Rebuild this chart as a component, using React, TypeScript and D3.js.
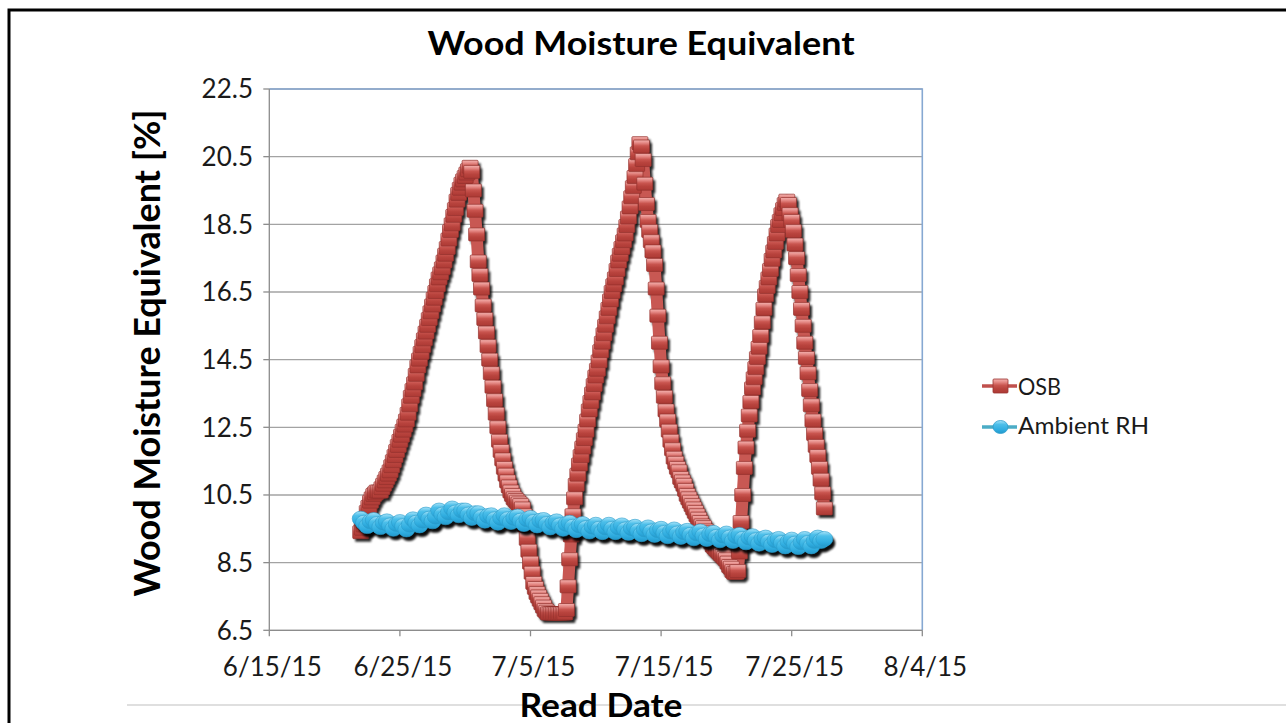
import React from 'react';
import * as d3 from 'd3';

// ---------- data ----------
const xTickLabels = ['6/15/15', '6/25/15', '7/5/15', '7/15/15', '7/25/15', '8/4/15'];
const yTickValues = [6.5, 8.5, 10.5, 12.5, 14.5, 16.5, 18.5, 20.5, 22.5];
const seriesNames = ['OSB', 'Ambient RH'];

// OSB readings, every 3 hours from 6/22/15 00:00
const osbStart = new Date(2015, 5, 22, 0);
const osbStepHours = 3;
const osbValues = [
  9.4, 9.5, 9.6, 9.8, 10.0, 10.15, 10.3, 10.4,
  10.5, 10.55, 10.6, 10.6, 10.6, 10.7, 10.8, 10.9,
  11.0, 11.1, 11.2, 11.35, 11.5, 11.65, 11.8, 11.95,
  12.1, 12.25, 12.4, 12.55, 12.7, 12.9, 13.15, 13.4,
  13.6, 13.8, 14.05, 14.3, 14.5, 14.7, 14.9, 15.1,
  15.3, 15.5, 15.7, 15.9, 16.1, 16.3, 16.5, 16.7,
  16.9, 17.05, 17.2, 17.4, 17.6, 17.8, 18.05, 18.3,
  18.5, 18.75, 18.95, 19.2, 19.4, 19.55, 19.7, 19.8,
  19.9, 20.0, 20.1, 20.2, 20.05, 19.5, 18.9, 18.2,
  17.4, 17.0, 16.6, 16.1, 15.7, 15.3, 14.9, 14.5,
  14.1, 13.7, 13.3, 12.9, 12.5, 12.1, 11.8, 11.55,
  11.3, 11.1, 10.9, 10.75, 10.6, 10.5, 10.4, 10.35,
  10.3, 10.25, 10.2, 10.1, 9.9, 9.6, 9.2, 8.85,
  8.5, 8.2, 7.9, 7.75, 7.6, 7.5, 7.4, 7.3,
  7.2, 7.1, 7.05, 7.0, 7.0, 7.0, 7.0, 7.0,
  7.0, 7.0, 7.0, 7.0, 7.0, 7.0, 7.1, 7.8,
  8.6, 9.3, 9.9, 10.4, 10.8, 11.1, 11.4, 11.65,
  11.9, 12.15, 12.4, 12.7, 13.0, 13.25, 13.5, 13.75,
  14.0, 14.2, 14.45, 14.75, 15.0, 15.25, 15.5, 15.75,
  16.0, 16.25, 16.5, 16.7, 16.9, 17.15, 17.4, 17.6,
  17.8, 18.0, 18.2, 18.45, 18.7, 19.0, 19.3, 19.6,
  19.9, 20.25, 20.6, 20.9, 20.8, 20.4, 19.7, 19.1,
  18.6, 18.3, 18.0, 17.7, 17.3, 16.6, 15.8, 15.0,
  14.3, 13.8, 13.4, 13.0, 12.7, 12.4, 12.1, 11.85,
  11.6, 11.45, 11.3, 11.2, 11.0, 10.9, 10.8, 10.65,
  10.5, 10.4, 10.3, 10.2, 10.1, 10.0, 9.9, 9.8,
  9.7, 9.6, 9.55, 9.45, 9.4, 9.3, 9.2, 9.1,
  9.0, 8.95, 8.9, 8.85, 8.8, 8.75, 8.7, 8.65,
  8.6, 8.5, 8.4, 8.35, 8.25, 8.2, 8.2, 8.25,
  8.8, 9.7, 10.5, 11.3, 11.9, 12.4, 12.85, 13.25,
  13.65, 13.95, 14.25, 14.55, 14.85, 15.2, 15.6, 16.0,
  16.4, 16.65, 16.9, 17.15, 17.45, 17.7, 17.95, 18.2,
  18.45, 18.6, 18.8, 18.95, 19.1, 19.2, 19.1, 18.8,
  18.6, 18.3, 17.9, 17.5, 17.0, 16.5, 16.0, 15.5,
  15.0, 14.55, 14.1, 13.6, 13.15, 12.7, 12.3, 11.95,
  11.65, 11.3, 10.95, 10.55, 10.1,
];

// Ambient RH readings, every 6 hours from 6/22/15 00:00
const rhStart = new Date(2015, 5, 22, 0);
const rhStepHours = 6;
const rhValues = [
  9.80, 9.68, 9.58, 9.72,
  9.76, 9.64, 9.55, 9.68,
  9.72, 9.60, 9.50, 9.64,
  9.70, 9.58, 9.48, 9.62,
  9.78, 9.68, 9.60, 9.74,
  9.92, 9.80, 9.72, 9.86,
  10.04, 9.92, 9.84, 9.98,
  10.10, 9.98, 9.90, 10.04,
  10.04, 9.92, 9.82, 9.96,
  9.96, 9.84, 9.74, 9.88,
  9.90, 9.78, 9.68, 9.82,
  9.90, 9.78, 9.70, 9.82,
  9.86, 9.74, 9.64, 9.78,
  9.82, 9.70, 9.60, 9.74,
  9.76, 9.64, 9.54, 9.68,
  9.72, 9.60, 9.50, 9.64,
  9.68, 9.56, 9.46, 9.60,
  9.64, 9.52, 9.42, 9.56,
  9.62, 9.50, 9.40, 9.54,
  9.62, 9.50, 9.40, 9.54,
  9.60, 9.48, 9.38, 9.52,
  9.56, 9.44, 9.34, 9.48,
  9.54, 9.42, 9.32, 9.46,
  9.50, 9.38, 9.28, 9.42,
  9.48, 9.36, 9.26, 9.40,
  9.44, 9.32, 9.22, 9.36,
  9.42, 9.30, 9.20, 9.34,
  9.38, 9.26, 9.16, 9.30,
  9.36, 9.24, 9.14, 9.28,
  9.32, 9.20, 9.10, 9.24,
  9.28, 9.16, 9.06, 9.20,
  9.24, 9.12, 9.02, 9.16,
  9.20, 9.08, 8.98, 9.12,
  9.18, 9.06, 8.96, 9.10,
  9.20, 9.08, 8.98, 9.14,
  9.24, 9.14, 9.20,
];

type Pt = { t: Date; v: number };

const FONT = "Lato, 'Open Sans', Arial, sans-serif";

export default function App() {
  const W = 1286;
  const H = 723;
  const parse = d3.timeParse('%m/%d/%y');
  const xTicks = xTickLabels.map((s) => parse(s) as Date);
  const x = d3
    .scaleTime()
    .domain([xTicks[0], xTicks[xTicks.length - 1]])
    .range([269.3, 922.3]);
  const y = d3
    .scaleLinear()
    .domain([yTickValues[0], yTickValues[yTickValues.length - 1]])
    .range([630.3, 89]);

  const osb: Pt[] = osbValues.map((v, i) => ({ t: d3.timeHour.offset(osbStart, i * osbStepHours), v }));
  const rh: Pt[] = rhValues.map((v, i) => ({ t: d3.timeHour.offset(rhStart, i * rhStepHours), v }));

  const line = d3
    .line<Pt>()
    .x((d) => x(d.t))
    .y((d) => y(d.v));

  const [x0, x1] = x.range();
  const [yb, yt] = y.range();

  const mw = 16;
  const mh = 13;
  const rx = 8.5;
  const ry = 7.5;

  return (
    <svg
      width={W}
      height={H}
      style={{ position: 'absolute', left: 0, top: 0, background: '#fff' }}
      fontFamily={FONT}
    >
      <defs>
        <linearGradient id="osbGrad" x1="0" y1="0" x2="0" y2="1">
          <stop offset="0" stopColor="#f4b3b0" />
          <stop offset="0.22" stopColor="#e58985" />
          <stop offset="0.45" stopColor="#c9554f" />
          <stop offset="0.7" stopColor="#b8433d" />
          <stop offset="1" stopColor="#ad3a35" />
        </linearGradient>
        <linearGradient id="rhGrad" x1="0" y1="0" x2="0" y2="1">
          <stop offset="0" stopColor="#a9e3f8" />
          <stop offset="0.3" stopColor="#4cbfea" />
          <stop offset="0.7" stopColor="#30ade0" />
          <stop offset="1" stopColor="#2399cc" />
        </linearGradient>
        <filter id="blur" x="-5%" y="-5%" width="110%" height="110%">
          <feGaussianBlur stdDeviation="1.2" />
        </filter>
      </defs>

      {/* page frame */}
      <path d={`M9,${H} V10 H${W}`} fill="none" stroke="#000" strokeWidth={3} />
      <line x1={127} x2={W} y1={705} y2={705} stroke="#d4d4d4" strokeWidth={1.5} />

      {/* title */}
      <text x={641} y={55} textAnchor="middle" fontSize={32} fontWeight={700} fill="#000" textLength={427} lengthAdjust="spacingAndGlyphs">
        Wood Moisture Equivalent
      </text>

      {/* gridlines */}
      {yTickValues.map((v) => (
        <line key={'g' + v} x1={x0} x2={x1} y1={y(v)} y2={y(v)} stroke="#a3a3a3" strokeWidth={1.3} />
      ))}
      {/* plot border top/right */}
      <path d={`M${x0},${yt} H${x1} V${yb}`} fill="none" stroke="#86a8d2" strokeWidth={1.6} />

      {/* axes */}
      <line x1={x0} x2={x0} y1={yt} y2={yb} stroke="#8c8c8c" strokeWidth={1.3} />
      <line x1={x0} x2={x1} y1={yb} y2={yb} stroke="#8c8c8c" strokeWidth={1.3} />
      {yTickValues.map((v) => (
        <g key={'yt' + v}>
          <line x1={x0 - 6} x2={x0} y1={y(v)} y2={y(v)} stroke="#8c8c8c" strokeWidth={1.3} />
          <text x={253} y={y(v)} dy="0.36em" textAnchor="end" fontSize={26} fill="#1a1a1a">
            {v.toFixed(1)}
          </text>
        </g>
      ))}
      {xTicks.map((t, i) => (
        <g key={'xt' + i}>
          <line x1={x(t)} x2={x(t)} y1={yb} y2={yb + 6} stroke="#8c8c8c" strokeWidth={1.3} />
          <text x={x(t) + 3} y={676} textAnchor="middle" fontSize={26} fill="#1a1a1a">
            {xTickLabels[i]}
          </text>
        </g>
      ))}

      {/* axis titles */}
      <text
        transform={`translate(160,353) rotate(-90)`}
        textAnchor="middle"
        fontSize={36}
        fontWeight={700}
        fill="#000"
        textLength={487}
        lengthAdjust="spacingAndGlyphs"
      >
        Wood Moisture Equivalent [%]
      </text>
      <text x={601} y={717} textAnchor="middle" fontSize={32} fontWeight={700} fill="#000" textLength={163} lengthAdjust="spacingAndGlyphs">
        Read Date
      </text>

      {/* OSB series */}
      <g transform="translate(2.5,3)" filter="url(#blur)" opacity={0.85}>
        <path d={line(osb) || ''} fill="none" stroke="#000" strokeWidth={12} strokeLinejoin="round" />
        {osb.map((d, i) => (
          <rect key={i} x={x(d.t) - mw / 2} y={y(d.v) - mh / 2} width={mw} height={mh} fill="#000" />
        ))}
      </g>
      <path d={line(osb) || ''} fill="none" stroke="#c85853" strokeWidth={12} strokeLinejoin="round" />
      {osb.map((d, i) => (
        <rect
          key={'o' + i}
          x={x(d.t) - mw / 2}
          y={y(d.v) - mh / 2}
          width={mw}
          height={mh}
          rx={1}
          fill="url(#osbGrad)"
          stroke="#93302c"
          strokeWidth={0.7}
        />
      ))}

      {/* Ambient RH series */}
      <g transform="translate(2.5,4)" filter="url(#blur)" opacity={0.95}>
        <path d={line(rh) || ''} fill="none" stroke="#000" strokeWidth={8} strokeLinejoin="round" />
        {rh.map((d, i) => (
          <ellipse key={i} cx={x(d.t)} cy={y(d.v)} rx={rx} ry={ry} fill="#000" />
        ))}
      </g>
      <path d={line(rh) || ''} fill="none" stroke="#30ade0" strokeWidth={8} strokeLinejoin="round" />
      {rh.map((d, i) => (
        <ellipse
          key={'r' + i}
          cx={x(d.t)}
          cy={y(d.v)}
          rx={rx}
          ry={ry}
          fill="url(#rhGrad)"
          stroke="#2a9ccb"
          strokeWidth={0.6}
        />
      ))}

      {/* legend */}
      <g>
        <line x1={982} x2={1017} y1={386} y2={386} stroke="#c0504d" strokeWidth={3.5} />
        <rect x={993} y={379} width={15} height={14} rx={1} fill="url(#osbGrad)" stroke="#9a3431" strokeWidth={0.8} />
        <text x={1018} y={395} fontSize={23} fill="#1a1a1a" textLength={43} lengthAdjust="spacingAndGlyphs">
          {seriesNames[0]}
        </text>
        <line x1={982} x2={1017} y1={427} y2={427} stroke="#4bacc6" strokeWidth={3.5} />
        <ellipse cx={1000.5} cy={427} rx={7.5} ry={6.5} fill="url(#rhGrad)" stroke="#2a9ccb" strokeWidth={0.8} />
        <text x={1018} y={434} fontSize={23} fill="#1a1a1a" textLength={131} lengthAdjust="spacingAndGlyphs">
          {seriesNames[1]}
        </text>
      </g>
    </svg>
  );
}
